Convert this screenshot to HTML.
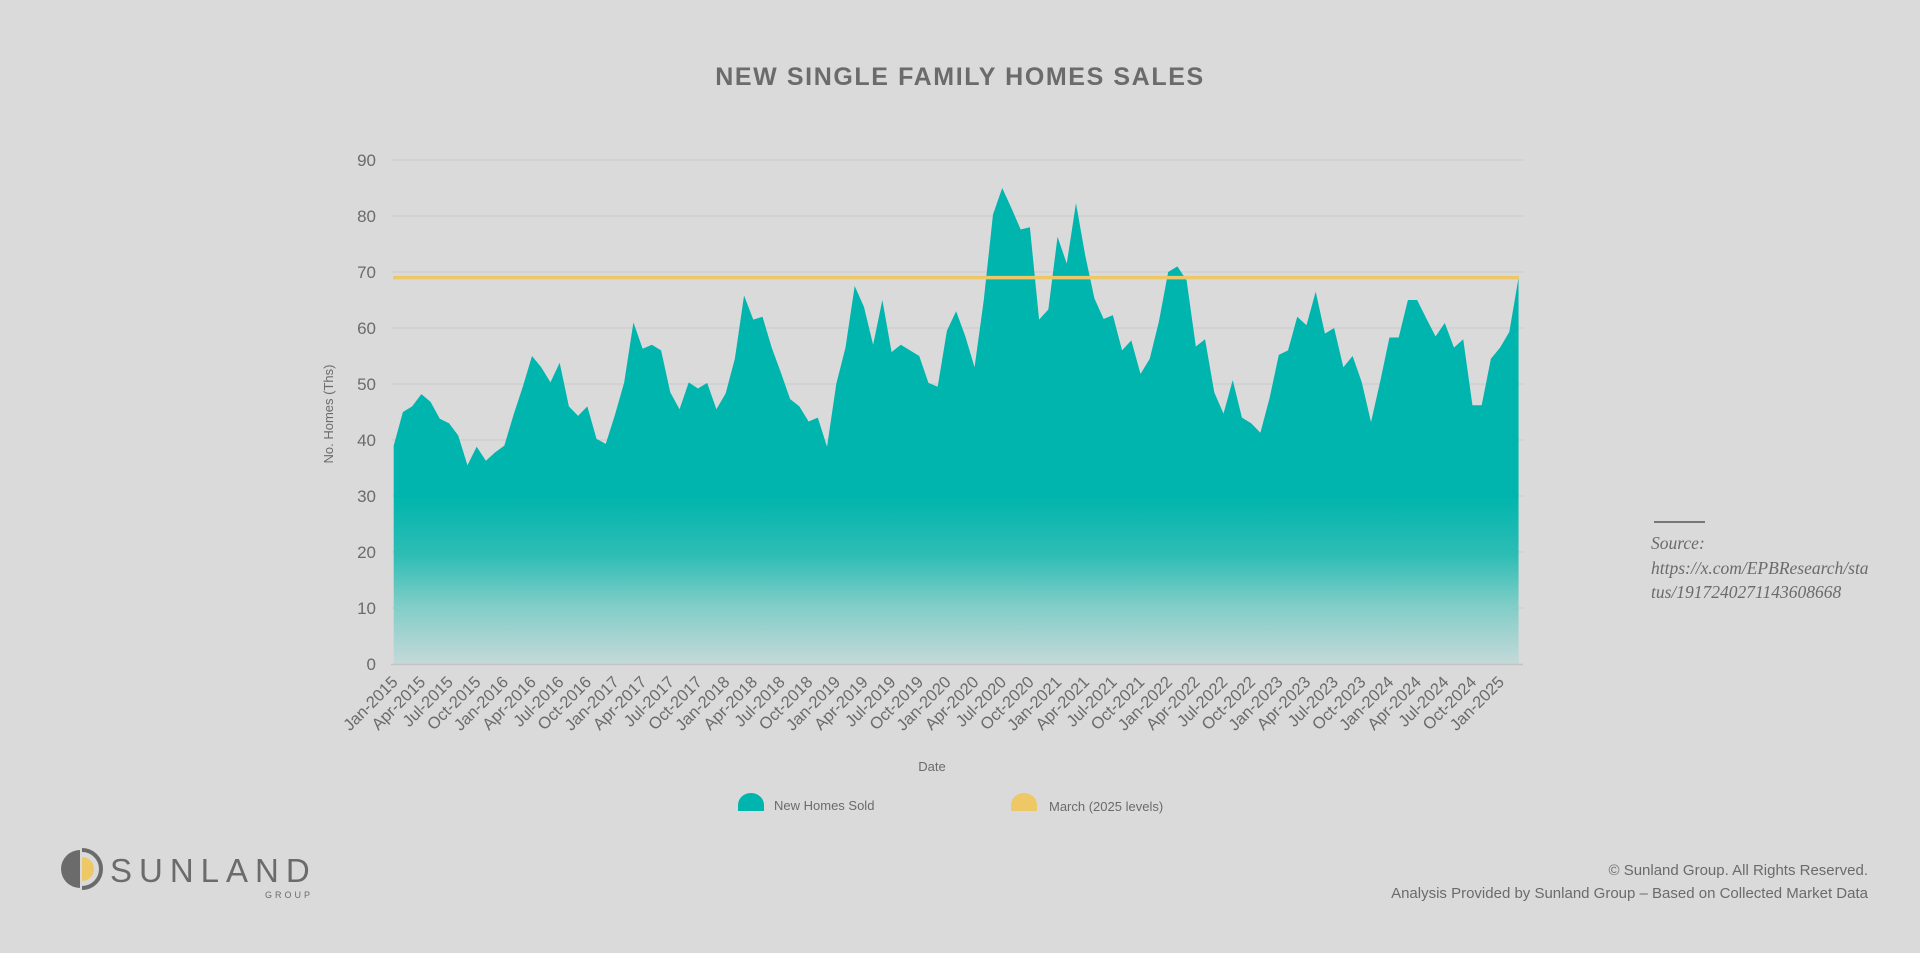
<!DOCTYPE html>
<html><head><meta charset="utf-8"><style>
html,body{margin:0;padding:0;background:#dadada;}
svg{display:block;font-family:"Liberation Sans",sans-serif;}
</style></head><body>
<svg width="1920" height="953" viewBox="0 0 1920 953" xmlns="http://www.w3.org/2000/svg">
<rect width="1920" height="953" fill="#dadada"/>
<text x="960" y="85" text-anchor="middle" font-size="25" font-weight="bold" fill="#6b6b6b" letter-spacing="1.6">NEW SINGLE FAMILY HOMES SALES</text>
<g stroke="#c9c9c9" stroke-width="1">
<line x1="391" x2="1523" y1="160" y2="160"/><line x1="391" x2="1523" y1="216" y2="216"/><line x1="391" x2="1523" y1="272" y2="272"/><line x1="391" x2="1523" y1="328" y2="328"/><line x1="391" x2="1523" y1="384" y2="384"/><line x1="391" x2="1523" y1="440" y2="440"/><line x1="391" x2="1523" y1="496" y2="496"/><line x1="391" x2="1523" y1="552" y2="552"/><line x1="391" x2="1523" y1="608" y2="608"/>
</g>
<g font-size="17" fill="#6b6b6b" text-anchor="end">
<text x="376" y="166">90</text><text x="376" y="222">80</text><text x="376" y="278">70</text><text x="376" y="334">60</text><text x="376" y="390">50</text><text x="376" y="446">40</text><text x="376" y="502">30</text><text x="376" y="558">20</text><text x="376" y="614">10</text><text x="376" y="670">0</text>
</g>
<text transform="translate(333,414) rotate(-90)" text-anchor="middle" font-size="13" fill="#6b6b6b">No. Homes (Ths)</text>
<defs>
<linearGradient id="g" gradientUnits="userSpaceOnUse" x1="0" y1="30" x2="0" y2="0">
<stop offset="0" stop-color="#00b5ad"/><stop offset="0.35" stop-color="#2dbdb5"/><stop offset="0.65" stop-color="#80cdc7"/><stop offset="1" stop-color="#c4d9d9"/>
</linearGradient>
</defs>
<g transform="translate(393.7,664) scale(9.22,-5.6)">
<polygon fill="url(#g)" points="0,0 0,39 1,45 2,46 3,48.2 4,46.8 5,43.8 6,43 7,40.8 8,35.5 9,38.8 10,36.3 11,37.8 12,39 13,44.5 14,49.5 15,55 16,53 17,50.3 18,53.8 19,46 20,44.3 21,46 22,40.2 23,39.3 24,44.5 25,50.3 26,61 27,56.3 28,57 29,56 30,48.5 31,45.5 32,50.3 33,49.2 34,50.2 35,45.5 36,48.3 37,54.5 38,65.8 39,61.5 40,62 41,56.5 42,52 43,47.3 44,46 45,43.3 46,44 47,38.8 48,50 49,56.5 50,67.5 51,63.8 52,57 53,65 54,55.7 55,57 56,56 57,55 58,50.2 59,49.5 60,59.5 61,63 62,58.5 63,53 64,65 65,80.3 66,85 67,81.4 68,77.6 69,78 70,61.5 71,63.3 72,76.3 73,71.5 74,82.3 75,73 76,65.3 77,61.6 78,62.3 79,56 80,57.8 81,51.8 82,54.5 83,61.2 84,70 85,71 86,68.5 87,56.7 88,58 89,48.5 90,44.7 91,50.7 92,44 93,43 94,41.3 95,47.5 96,55.2 97,56 98,62 99,60.5 100,66.5 101,59 102,60 103,53 104,55 105,50.3 106,43.2 107,50.5 108,58.3 109,58.3 110,65 111,65 112,61.7 113,58.5 114,60.9 115,56.5 116,58 117,46.2 118,46.2 119,54.5 120,56.5 121,59.3 122,69 122,0"/>
</g>
<line x1="391" x2="1523" y1="664.5" y2="664.5" stroke="#c4c4c4" stroke-width="1.5"/>
<line x1="393" x2="1519" y1="277.6" y2="277.6" stroke="#eec866" stroke-width="3.5"/>
<g font-size="16.5" fill="#6b6b6b" text-anchor="end">
<text transform="translate(398.7,683) rotate(-45)">Jan-2015</text>
<text transform="translate(426.4,683) rotate(-45)">Apr-2015</text>
<text transform="translate(454.0,683) rotate(-45)">Jul-2015</text>
<text transform="translate(481.7,683) rotate(-45)">Oct-2015</text>
<text transform="translate(509.3,683) rotate(-45)">Jan-2016</text>
<text transform="translate(537.0,683) rotate(-45)">Apr-2016</text>
<text transform="translate(564.7,683) rotate(-45)">Jul-2016</text>
<text transform="translate(592.3,683) rotate(-45)">Oct-2016</text>
<text transform="translate(620.0,683) rotate(-45)">Jan-2017</text>
<text transform="translate(647.6,683) rotate(-45)">Apr-2017</text>
<text transform="translate(675.3,683) rotate(-45)">Jul-2017</text>
<text transform="translate(703.0,683) rotate(-45)">Oct-2017</text>
<text transform="translate(730.6,683) rotate(-45)">Jan-2018</text>
<text transform="translate(758.3,683) rotate(-45)">Apr-2018</text>
<text transform="translate(785.9,683) rotate(-45)">Jul-2018</text>
<text transform="translate(813.6,683) rotate(-45)">Oct-2018</text>
<text transform="translate(841.3,683) rotate(-45)">Jan-2019</text>
<text transform="translate(868.9,683) rotate(-45)">Apr-2019</text>
<text transform="translate(896.6,683) rotate(-45)">Jul-2019</text>
<text transform="translate(924.2,683) rotate(-45)">Oct-2019</text>
<text transform="translate(951.9,683) rotate(-45)">Jan-2020</text>
<text transform="translate(979.6,683) rotate(-45)">Apr-2020</text>
<text transform="translate(1007.2,683) rotate(-45)">Jul-2020</text>
<text transform="translate(1034.9,683) rotate(-45)">Oct-2020</text>
<text transform="translate(1062.5,683) rotate(-45)">Jan-2021</text>
<text transform="translate(1090.2,683) rotate(-45)">Apr-2021</text>
<text transform="translate(1117.9,683) rotate(-45)">Jul-2021</text>
<text transform="translate(1145.5,683) rotate(-45)">Oct-2021</text>
<text transform="translate(1173.2,683) rotate(-45)">Jan-2022</text>
<text transform="translate(1200.8,683) rotate(-45)">Apr-2022</text>
<text transform="translate(1228.5,683) rotate(-45)">Jul-2022</text>
<text transform="translate(1256.2,683) rotate(-45)">Oct-2022</text>
<text transform="translate(1283.8,683) rotate(-45)">Jan-2023</text>
<text transform="translate(1311.5,683) rotate(-45)">Apr-2023</text>
<text transform="translate(1339.1,683) rotate(-45)">Jul-2023</text>
<text transform="translate(1366.8,683) rotate(-45)">Oct-2023</text>
<text transform="translate(1394.5,683) rotate(-45)">Jan-2024</text>
<text transform="translate(1422.1,683) rotate(-45)">Apr-2024</text>
<text transform="translate(1449.8,683) rotate(-45)">Jul-2024</text>
<text transform="translate(1477.4,683) rotate(-45)">Oct-2024</text>
<text transform="translate(1505.1,683) rotate(-45)">Jan-2025</text>
</g>
<text x="932" y="771" text-anchor="middle" font-size="13" fill="#6b6b6b">Date</text>
<path d="M738,811 L738,805 A13,12 0 0 1 764,805 L764,811 Z" fill="#00b5ad"/>
<text x="774" y="810" font-size="13" fill="#6b6b6b">New Homes Sold</text>
<path d="M1011,811 L1011,805 A13,12 0 0 1 1037,805 L1037,811 Z" fill="#eec866"/>
<text x="1049" y="811" font-size="13" fill="#6b6b6b">March (2025 levels)</text>
<line x1="1654" x2="1705" y1="522" y2="522" stroke="#777" stroke-width="2"/>
<g font-family="Liberation Serif, serif" font-style="italic" font-size="17.5" fill="#6b6b6b">
<text x="1651" y="549">Source:</text>
<text x="1651" y="574">https://x.com/EPBResearch/sta</text>
<text x="1651" y="598">tus/1917240271143608668</text>
</g>
<path d="M80,850 A19,19 0 0 0 80,888 Z" fill="#6b6b6b"/>
<path d="M82,850 A19,19 0 0 1 82,888" fill="none" stroke="#6b6b6b" stroke-width="4"/>
<path d="M82,857 A12,12 0 0 1 82,881 Z" fill="#eec866"/>
<text x="110" y="882" font-size="33" fill="#6b6b6b" letter-spacing="7">SUNLAND</text>
<text x="313" y="898" text-anchor="end" font-size="9" fill="#6b6b6b" letter-spacing="3">GROUP</text>
<g font-size="15" fill="#6b6b6b" text-anchor="end">
<text x="1868" y="875">© Sunland Group. All Rights Reserved.</text>
<text x="1868" y="898">Analysis Provided by Sunland Group – Based on Collected Market Data</text>
</g>
</svg>
</body></html>
